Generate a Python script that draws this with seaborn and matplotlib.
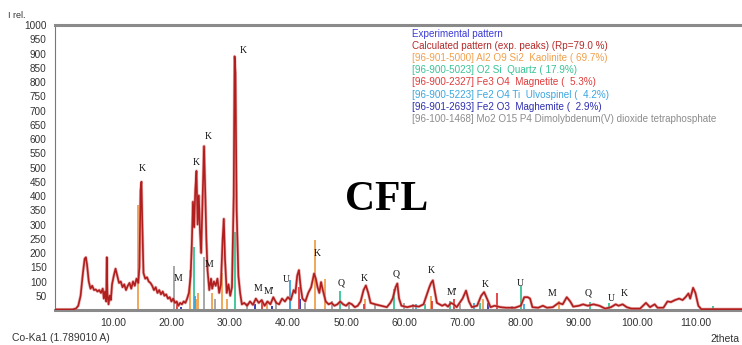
import matplotlib
matplotlib.use("Agg")
import matplotlib.pyplot as plt
import seaborn as sns
import pandas as pd

# ---- calculated pattern (2theta, I rel.) ----
two_theta = [0, 3.0, 3.6, 4.0, 4.4, 4.8, 5.1, 5.3, 5.5, 5.8, 6.1, 6.4, 6.7, 7.0, 7.3, 7.6, 7.9, 8.2, 8.4, 8.6,
             8.8, 8.9, 9.0, 9.2, 9.4, 9.6, 9.8, 10.1, 10.4, 10.7, 11.0, 11.3, 11.6, 11.9, 12.2, 12.5, 12.8, 13.1,
             13.4, 13.7, 14.0, 14.3, 14.5, 14.7, 14.85, 15.0, 15.2, 15.5, 15.8, 16.1, 16.4, 16.7, 17.0, 17.3,
             17.6, 17.9, 18.2, 18.5, 18.8, 19.1, 19.4, 19.7, 20.0, 20.3, 20.6, 20.9, 21.2, 21.5, 21.8, 22.1,
             22.4, 22.7, 23.0, 23.3, 23.5, 23.7, 23.9, 24.1, 24.3, 24.5, 24.7, 24.9, 25.1, 25.3, 25.6, 25.8,
             26.0, 26.2, 26.5, 26.8, 27.0, 27.3, 27.6, 27.9, 28.2, 28.5, 28.8, 29.0, 29.2, 29.5, 29.8, 30.1,
             30.4, 30.7, 30.85, 31.0, 31.2, 31.5, 31.8, 32.1, 32.5, 33.0, 33.5, 34.0, 34.5, 35.0, 35.5, 36.0,
             36.5, 37.0, 37.5, 38.0, 38.5, 39.0, 39.5, 40.0, 40.5, 41.0, 41.3, 41.6, 41.9, 42.2, 42.5, 43.0,
             43.5, 44.0, 44.5, 44.8, 45.1, 45.4, 45.7, 46.0, 46.5, 47.0, 47.5, 48.0, 48.5, 49.0, 49.5, 50.0,
             50.5, 51.0, 51.5, 52.0, 52.5, 53.0, 53.4, 53.8, 54.2, 55.0, 56.0, 57.0, 57.6, 58.0, 58.5, 58.8,
             59.1, 59.5, 60.5, 61.5, 62.5, 63.3, 63.8, 64.3, 64.6, 64.9, 65.2, 65.6, 66.5, 67.0, 67.5, 68.0,
             68.5, 69.0, 70.0, 70.6, 71.1, 71.6, 72.5, 73.2, 73.7, 74.2, 74.8, 75.5, 76.5, 77.5, 79.0, 80.0,
             80.6, 81.2, 81.6, 82.0, 83.0, 83.8, 84.5, 85.5, 86.5, 87.2, 87.9, 88.5, 89.0, 90.0, 90.7, 91.5,
             92.5, 93.5, 94.5, 95.5, 96.3, 96.8, 97.5, 98.2, 99.0, 100.5, 101.5, 102.2, 103.0, 103.5, 104.5,
             105.2, 105.8, 106.5, 107.2, 107.8, 108.3, 108.8, 109.1, 109.6, 110.0, 110.5, 111.0, 113.0, 118.0]
intensity = [2, 2, 5, 15, 50, 130, 180, 185, 160, 100, 75, 85, 70, 72, 65, 70, 60, 75, 40, 65,
             30, 185, 60, 20, 50, 35, 90, 120, 145, 120, 95, 100, 80, 90, 70, 85, 95, 75,
             100, 85, 110, 95, 150, 420, 450, 300, 130, 110, 115, 100, 95, 85, 70, 80,
             60, 70, 55, 65, 50, 55, 40, 45, 30, 40, 25, 30, 15, 25, 20, 30,
             25, 40, 60, 120, 230, 380, 290, 420, 488, 300, 402, 280, 200, 350, 575, 420,
             250, 140, 70, 110, 75, 100, 85, 110, 60, 90, 250, 320, 180, 60, 90, 50,
             80, 400, 890, 830, 350, 120, 60, 20, 25, 15, 30, 18, 40, 25, 35, 15,
             30, 20, 45, 25, 20, 40, 30, 45, 35, 70, 60, 120, 140, 80, 40, 30,
             60, 80, 128, 110, 80, 60, 98, 70, 30, 20, 25, 15, 20, 30, 20, 15,
             25, 20, 10, 15, 30, 70, 86, 60, 25, 20, 15, 10, 25, 40, 80, 93,
             40, 15, 10, 15, 12, 20, 50, 80, 95, 104, 70, 25, 15, 20, 12, 25,
             20, 10, 40, 68, 30, 10, 15, 50, 63, 40, 10, 15, 10, 8, 8, 15,
             45, 45, 40, 10, 8, 15, 8, 10, 25, 20, 45, 30, 12, 15, 20, 15,
             20, 15, 5, 10, 20, 15, 20, 10, 5, 5, 25, 10, 20, 8, 8,
             30, 28, 35, 40, 35, 45, 58, 40, 78, 60, 15, 3, 3, 3]

# ---- phase reference sticks ----
kaolinite_pos = [14.3, 23.2, 24.2, 24.6, 26.9, 28.7, 29.6, 36.5, 44.7, 46.4, 53.2, 64.5, 73.5, 86.5]
kaolinite_int = [370, 140, 40, 60, 60, 130, 40, 30, 244, 110, 40, 50, 40, 30]
quartz_pos = [23.9, 30.9, 40.3, 49.0, 58.2, 63.5, 67.8, 73.0, 80.1, 91.9, 95.1, 113.0]
quartz_int = [220, 273, 40, 68, 72, 20, 30, 25, 86, 27, 25, 15]
magnetite_pos = [21.0, 35.5, 41.9, 53.0, 64.8, 68.5, 75.9]
magnetite_int = [25, 35, 80, 20, 30, 40, 58]
ulvospinel_pos = [24.0, 40.4, 62.0, 72.0, 80.5]
ulvospinel_int = [50, 104, 20, 25, 20]
maghemite_pos = [21.7, 34.3, 37.2, 42.0, 74.3]
maghemite_int = [10, 20, 15, 40, 25]
mo_pos = [20.4, 25.6, 27.5, 33.0, 38.0, 43.0, 47.5, 50.5, 55.0, 60.0, 61.5, 69.5, 78.5]
mo_int = [155, 187, 40, 25, 30, 25, 30, 25, 20, 25, 20, 20, 15]

# ---- peak labels ----
label_text = ["K", "K", "K", "K", "M", "M", "M", "M'", "U", "K", "Q", "K", "Q", "K", "M'", "K", "U", "M", "Q", "U", "K"]
label_x = [15.0, 24.3, 26.3, 32.4, 21.2, 26.5, 34.8, 36.8, 39.7, 45.0, 49.2, 53.1, 58.6, 64.6, 68.1, 73.9, 80.0, 85.3, 91.5, 95.5, 97.7]
label_y = [498, 517, 610, 912, 110, 160, 75, 65, 107, 200, 95, 110, 125, 140, 62, 90, 93, 58, 58, 40, 58]

legend_lines = ["Experimental pattern",
                "Calculated pattern (exp. peaks) (Rp=79.0 %)",
                "[96-901-5000] Al2 O9 Si2  Kaolinite ( 69.7%)",
                "[96-900-5023] O2 Si  Quartz ( 17.9%)",
                "[96-900-2327] Fe3 O4  Magnetite (  5.3%)",
                "[96-900-5223] Fe2 O4 Ti  Ulvospinel (  4.2%)",
                "[96-901-2693] Fe2 O3  Maghemite (  2.9%)",
                "[96-100-1468] Mo2 O15 P4 Dimolybdenum(V) dioxide tetraphosphate"]
legend_colors = ["#3a3ad8", "#b52a2a", "#f0a04c", "#38c494", "#e03a3a", "#3aa6e0", "#2e2eb0", "#8c8c8c"]

sns.set_style("white")
plt.rcParams["font.family"] = ["Liberation Sans", "DejaVu Sans"]

fig = plt.figure(figsize=(7.42, 3.45), dpi=100)
ax = fig.add_axes([0.0741, 0.1014, 0.9259, 0.8261])

phases = [(mo_pos, mo_int, "#a0a0a0"), (kaolinite_pos, kaolinite_int, "#f0a04c"),
          (quartz_pos, quartz_int, "#38c494"), (ulvospinel_pos, ulvospinel_int, "#3aa6e0"),
          (maghemite_pos, maghemite_int, "#2e2eb0"), (magnetite_pos, magnetite_int, "#e03a3a")]
for pos, inten, col in phases:
    ax.vlines(pos, 0, inten, color=col, linewidth=1.3, zorder=2)

df = pd.DataFrame({"2theta": two_theta, "I": intensity})
sns.lineplot(data=df, x="2theta", y="I", ax=ax, color="#e08080", linewidth=2.2, sort=False, zorder=3, alpha=0.6)
sns.lineplot(data=df, x="2theta", y="I", ax=ax, color="#b01e1e", linewidth=1.2, sort=False, zorder=3)

for t, x, y in zip(label_text, label_x, label_y):
    ax.text(x, y, t, fontsize=7, family=["Liberation Serif", "DejaVu Serif"], ha="center", va="center",
            color="#111111", zorder=4)

ax.text(57, 385, "CFL", fontsize=30, fontweight="bold", family=["Liberation Serif", "DejaVu Serif"],
        ha="center", va="center", color="black")

ax.set_xlim(0, 118)
ax.set_ylim(0, 1000)
ax.set_xticks(list(range(10, 111, 10)))
ax.set_xticklabels([f"{v:.2f}" for v in range(10, 111, 10)], fontsize=7.5, color="#333333")
ax.set_yticks(list(range(50, 1001, 50)))
ax.set_yticklabels([str(v) for v in range(50, 1001, 50)], fontsize=7.2, color="#333333")
ax.tick_params(axis="both", direction="out", length=4, width=0.8, color="#555555", pad=2)
ax.set_xlabel("")
ax.set_ylabel("")
for side in ["top", "bottom"]:
    ax.spines[side].set_color("#8a8a8a")
    ax.spines[side].set_linewidth(2.2)
ax.spines["left"].set_color("#777777")
ax.spines["left"].set_linewidth(0.8)
ax.spines["right"].set_visible(False)

for i, (txt, col) in enumerate(zip(legend_lines, legend_colors)):
    fig.text(412 / 742, 1 - (34 + i * 12.1) / 345, txt, fontsize=7.1, color=col, ha="left", va="center")

fig.text(8 / 742, 1 - 16 / 345, "I rel.", fontsize=6.5, color="#333333", ha="left", va="center")
fig.text(12 / 742, 1 - 338 / 345, "Co-Ka1 (1.789010 A)", fontsize=7.5, color="#333333", ha="left", va="center")
fig.text(739 / 742, 1 - 339 / 345, "2theta", fontsize=7.5, color="#333333", ha="right", va="center")

fig.savefig("out.png", dpi=100)
